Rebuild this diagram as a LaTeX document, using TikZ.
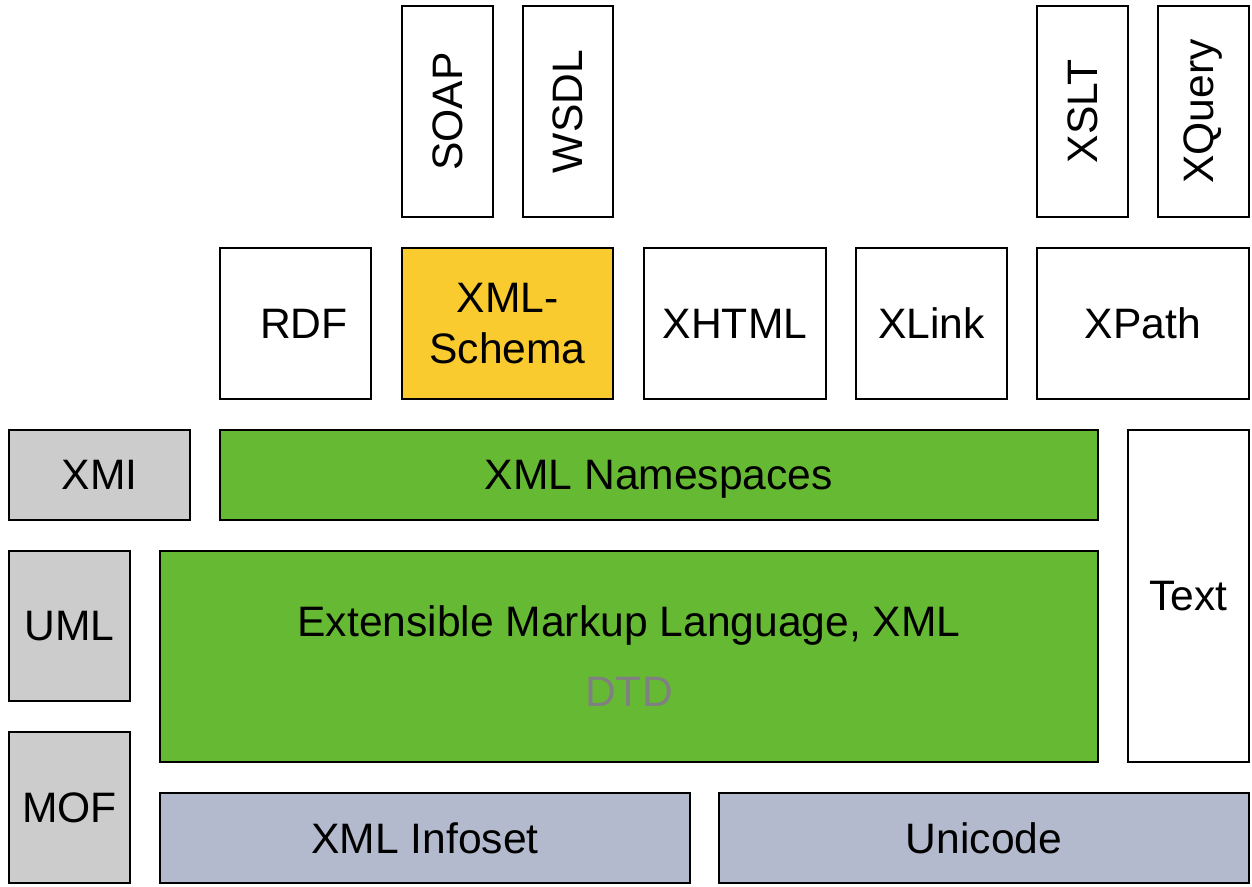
\documentclass[tikz,border=0pt]{standalone}
\usepackage{fontspec}
\setmainfont{Liberation Sans}
\definecolor{boxgray}{RGB}{204,204,204}
\definecolor{boxgreen}{RGB}{102,185,51}
\definecolor{boxblue}{RGB}{179,186,205}
\definecolor{boxyellow}{RGB}{249,203,47}
\definecolor{dtdgray}{RGB}{128,128,128}
\begin{document}
\begin{tikzpicture}[x=1pt,y=1pt,
  box/.style={draw=black, line width=1.5pt, inner sep=0pt, align=center,
    font=\fontsize{42.6}{51}\selectfont},
  vbox/.style={box, rotate=90}]
\useasboundingbox (0,0) rectangle (1252,-886);
% top row (vertical)
\node[vbox, fill=white, minimum width=211, minimum height=91] (soap) at (447.5,-111.5) {SOAP};
\node[vbox, fill=white, minimum width=211, minimum height=90] (wsdl) at (568,-111.5) {WSDL};
\node[vbox, fill=white, minimum width=211, minimum height=91] (xslt) at (1082.5,-111.5) {XSLT};
\node[vbox, fill=white, minimum width=211, minimum height=91] (xquery) at (1203.5,-111.5) {XQuery};
% second row
\node[box, fill=white, minimum width=151, minimum height=151] (rdf) at (295.5,-323.5) {\hspace*{17pt}RDF};
\node[box, fill=boxyellow, minimum width=211, minimum height=151] (schema) at (507.5,-323.5) {XML-\\Schema};
\node[box, fill=white, minimum width=182, minimum height=151] (xhtml) at (735,-323.5) {XHTML};
\node[box, fill=white, minimum width=151, minimum height=151] (xlink) at (931.5,-323.5) {XLink};
\node[box, fill=white, minimum width=212, minimum height=151] (xpath) at (1143,-323.5) {XPath};
% third row
\node[box, fill=boxgray, minimum width=181, minimum height=90] (xmi) at (99.5,-475) {XMI};
\node[box, fill=boxgreen, minimum width=878, minimum height=90, text depth=0pt] (ns) at (659,-475) {XML Namespaces};
\node[box, fill=white, minimum width=121, minimum height=332] (text) at (1188.5,-596) {Text};
% fourth row
\node[box, fill=boxgray, minimum width=121, minimum height=150] (uml) at (69.5,-626) {UML};
\node[box, fill=boxgreen, minimum width=938, minimum height=211] (xml) at (629,-656.5)
  {Extensible Markup Language, XML\\[19pt]\textcolor{dtdgray}{DTD}};
% bottom row
\node[box, fill=boxgray, minimum width=121, minimum height=151] (mof) at (69.5,-807.5) {MOF};
\node[box, fill=boxblue, minimum width=530, minimum height=90] (infoset) at (425,-838) {XML Infoset};
\node[box, fill=boxblue, minimum width=530, minimum height=90] (unicode) at (984,-838) {Unicode};
\end{tikzpicture}
\end{document}
